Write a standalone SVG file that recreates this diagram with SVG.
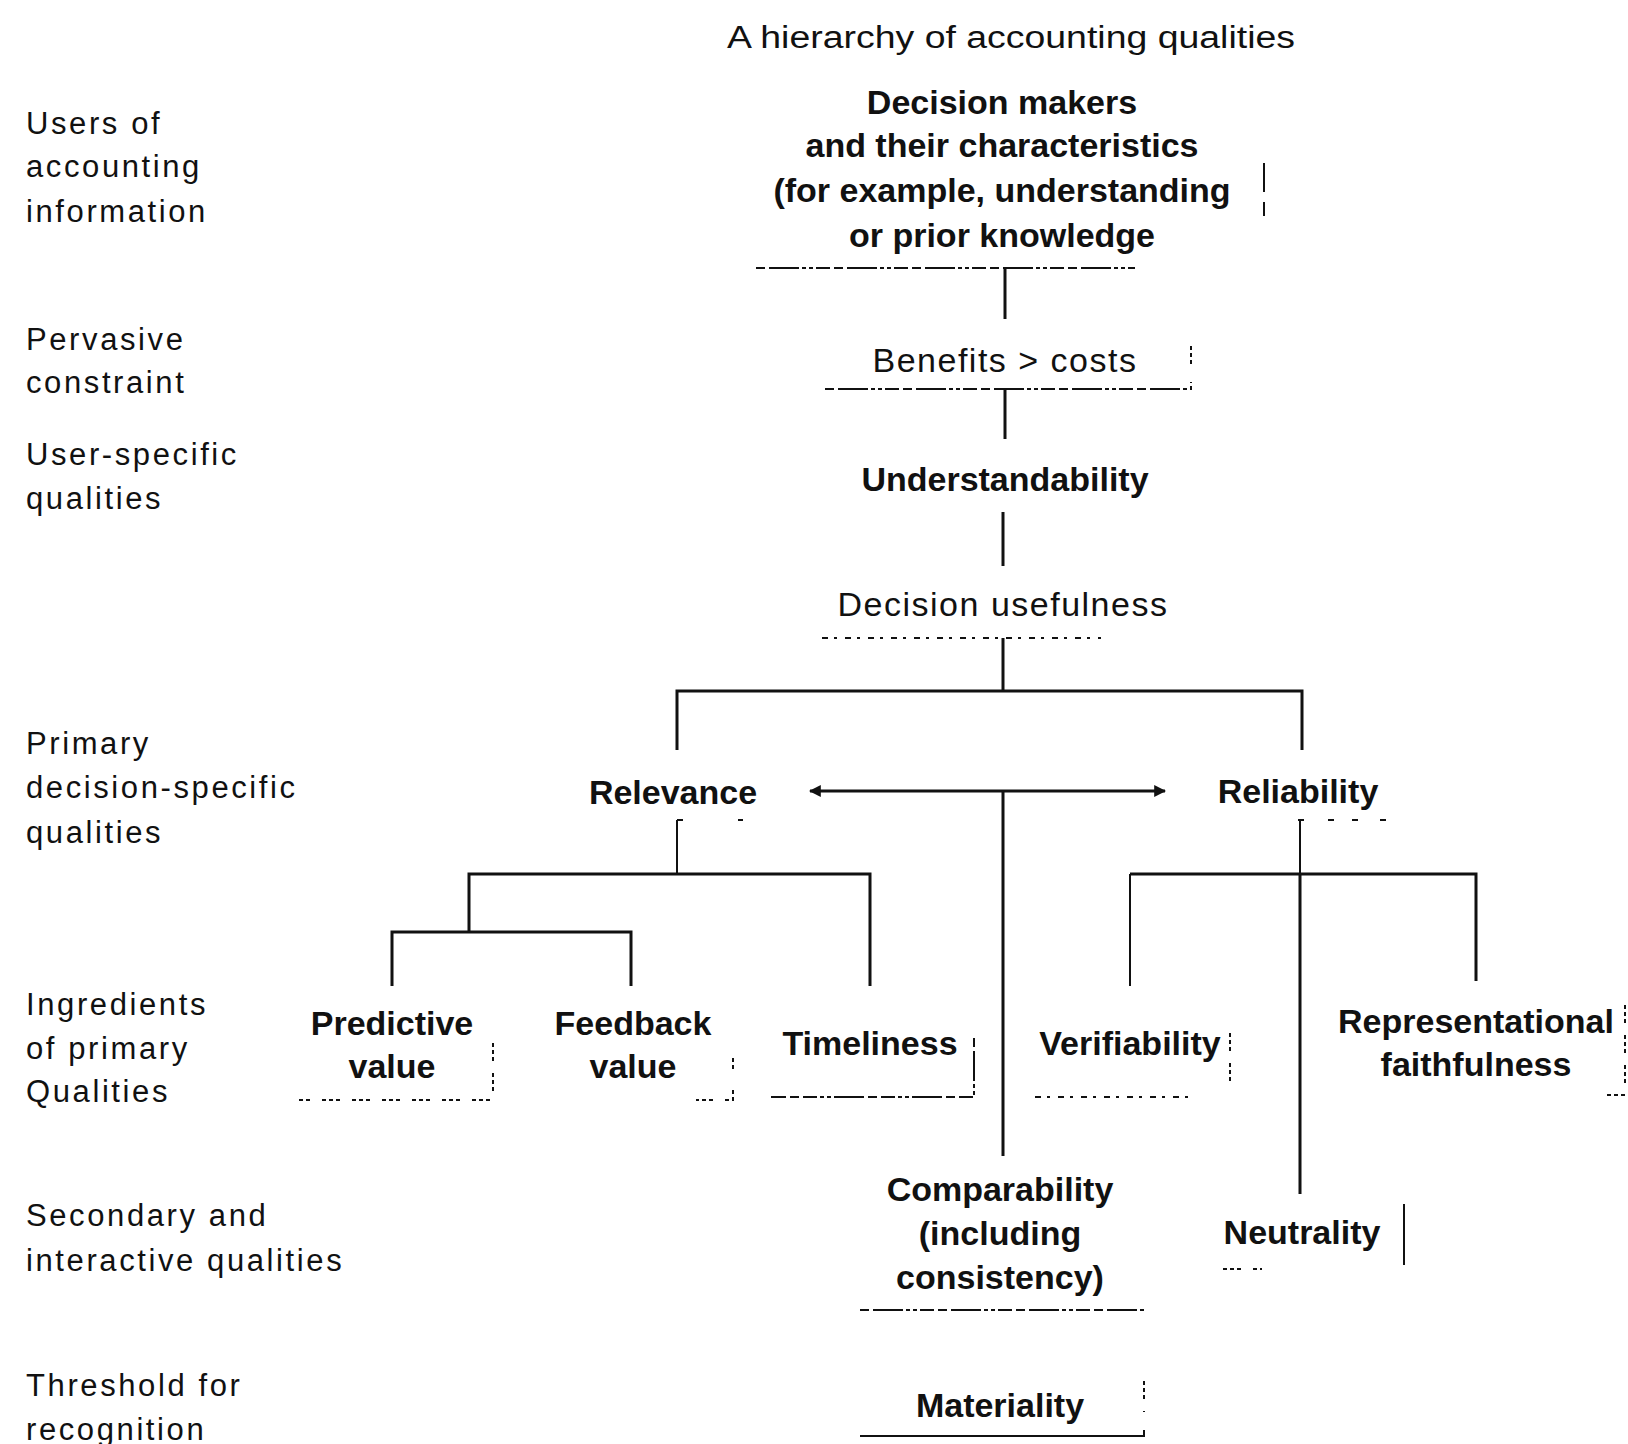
<svg xmlns="http://www.w3.org/2000/svg" width="1628" height="1444" viewBox="0 0 1628 1444">
<style>
text{font-family:"Liberation Sans",Arial,sans-serif;fill:#111}
.lab{font-size:31px;letter-spacing:2.6px}
.ttl{font-size:31px}
.nd{font-size:34px;font-weight:bold;text-anchor:middle}
.nd.reg{font-weight:normal;letter-spacing:1.5px}
.ln{stroke:#111;stroke-width:3;fill:none}
.thin{stroke:#111;stroke-width:2;fill:none}
.d1{stroke:#111;stroke-width:2;fill:none;stroke-dasharray:9 4 30 3 4 3 4 3 14 4}
.d2{stroke:#111;stroke-width:2;fill:none;stroke-dasharray:4 3 4 3 4 12}
.d3{stroke:#111;stroke-width:2;fill:none;stroke-dasharray:6 6 3 8}
</style>
<defs>
<marker id="ah" viewBox="0 0 10 10" refX="9" refY="5" markerWidth="4" markerHeight="4" orient="auto-start-reverse">
<path d="M0,0 L10,5 L0,10 z" fill="#111"/>
</marker>
</defs>
<rect width="1628" height="1444" fill="#fff"/>

<g id="title"><text class="ttl" x="727" y="48" textLength="568" lengthAdjust="spacingAndGlyphs">A hierarchy of accounting qualities</text></g>

<g id="level-labels">
<text class="lab" x="26" y="134">Users of</text>
<text class="lab" x="26" y="177">accounting</text>
<text class="lab" x="26" y="222">information</text>
<text class="lab" x="26" y="350">Pervasive</text>
<text class="lab" x="26" y="393">constraint</text>
<text class="lab" x="26" y="465">User-specific</text>
<text class="lab" x="26" y="509">qualities</text>
<text class="lab" x="26" y="754">Primary</text>
<text class="lab" x="26" y="798">decision-specific</text>
<text class="lab" x="26" y="843">qualities</text>
<text class="lab" x="26" y="1015">Ingredients</text>
<text class="lab" x="26" y="1059">of primary</text>
<text class="lab" x="26" y="1102">Qualities</text>
<text class="lab" x="26" y="1226">Secondary and</text>
<text class="lab" x="26" y="1271">interactive qualities</text>
<text class="lab" x="26" y="1396">Threshold for</text>
<text class="lab" x="26" y="1440">recognition</text>
</g>

<g id="node-decision-makers">
<text class="nd" x="1002" y="114">Decision makers</text>
<text class="nd" x="1002" y="157">and their characteristics</text>
<text class="nd" x="1002" y="202">(for example, understanding</text>
<text class="nd" x="1002" y="247">or prior knowledge</text>
<path class="thin" d="M1264,163 V192 M1264,202 V216"/>
<path class="d1" d="M756,268 H1135"/>
</g>

<g id="node-benefits">
<text class="nd reg" x="1005" y="372">Benefits &gt; costs</text>
<path class="d2" d="M1191,346 V374"/>
<path class="d1" d="M825,389 H1191 V382"/>
</g>

<g id="node-understandability">
<text class="nd" x="1005" y="491">Understandability</text>
</g>

<g id="node-decision-usefulness">
<text class="nd reg" x="1003" y="616">Decision usefulness</text>
<path class="d3" d="M822,638 H1101"/>
</g>

<g id="node-relevance">
<text class="nd" x="673" y="804">Relevance</text>
<path class="d3" d="M677,820 H683 M738,820 H743"/>
</g>

<g id="node-reliability">
<text class="nd" x="1298" y="803">Reliability</text>
<path class="d3" d="M1298,820 H1304 M1328,820 H1334 M1352,820 H1358 M1380,820 H1388"/>
</g>

<g id="node-predictive">
<text class="nd" x="392" y="1035">Predictive</text>
<text class="nd" x="392" y="1078">value</text>
<path class="d2" d="M493,1043 V1100 H296"/>
</g>

<g id="node-feedback">
<text class="nd" x="633" y="1035">Feedback</text>
<text class="nd" x="633" y="1078">value</text>
<path class="d2" d="M733,1058 V1070 M733,1090 V1100 H696"/>
</g>

<g id="node-timeliness">
<text class="nd" x="870" y="1055">Timeliness</text>
<path class="d1" d="M974,1038 V1097 H771"/>
</g>

<g id="node-verifiability">
<text class="nd" x="1130" y="1055">Verifiability</text>
<path class="d2" d="M1230,1033 V1090"/>
<path class="d3" d="M1035,1097 H1194"/>
</g>

<g id="node-representational">
<text class="nd" x="1476" y="1033">Representational</text>
<text class="nd" x="1476" y="1076">faithfulness</text>
<path class="d2" d="M1625,1005 V1095 H1603"/>
</g>

<g id="node-comparability">
<text class="nd" x="1000" y="1201">Comparability</text>
<text class="nd" x="1000" y="1245">(including</text>
<text class="nd" x="1000" y="1289">consistency)</text>
<path class="d1" d="M860,1310 H1145"/>
</g>

<g id="node-neutrality">
<text class="nd" x="1302" y="1244">Neutrality</text>
<path class="thin" d="M1404,1204 V1265"/>
<path class="d2" d="M1223,1269 H1262"/>
</g>

<g id="node-materiality">
<text class="nd" x="1000" y="1417">Materiality</text>
<path class="d2" d="M1144,1381 V1412"/>
<path class="thin" d="M860,1436 H1144 V1430"/>
</g>

<g id="connectors">
<path class="ln" d="M1005,268 V319"/>
<path class="ln" d="M1005,389 V439"/>
<path class="ln" d="M1003,512 V566"/>
<path class="ln" d="M1003,638 V691"/>
<path class="ln" d="M677,750 V691 H1302 V750"/>
<path class="ln" d="M810,791 H1165" marker-start="url(#ah)" marker-end="url(#ah)"/>
<path class="ln" d="M1003,791 V1156"/>
<path class="thin" d="M677,820 V874"/>
<path class="ln" d="M469,932 V874 H870 V986"/>
<path class="ln" d="M392,986 V932 H631 V986"/>
<path class="thin" d="M1300,820 V874"/>
<path class="ln" d="M1300,874 V1194"/>
<path class="thin" d="M1130,986 V874"/>
<path class="ln" d="M1130,874 H1476 V981"/>
</g>
</svg>
